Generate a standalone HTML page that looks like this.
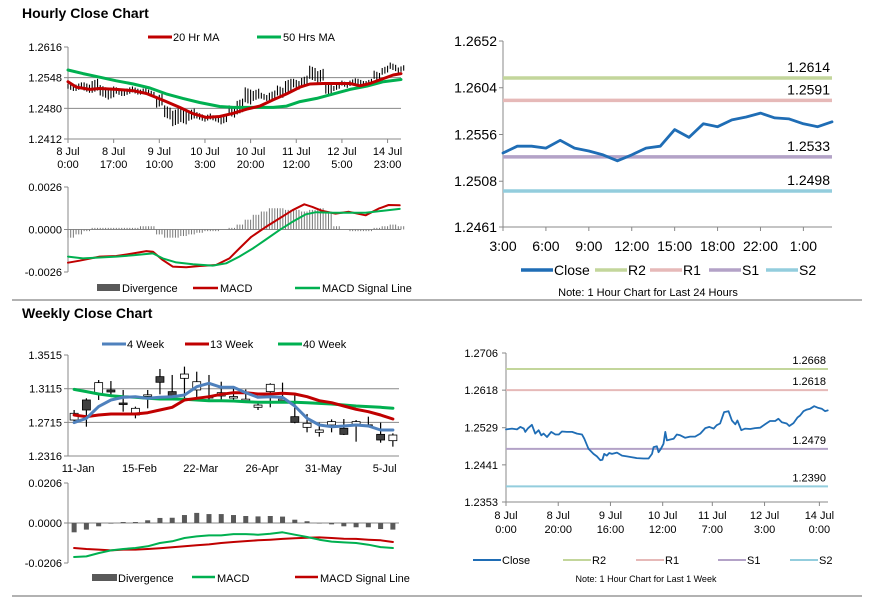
<!DOCTYPE html>
<html><head><meta charset="utf-8"><style>
body{margin:0;background:#fff;}
svg{display:block;font-family:"Liberation Sans",Arial,sans-serif;}
</style></head><body>
<svg id="root" width="873" height="601" viewBox="0 0 873 601" xmlns="http://www.w3.org/2000/svg">
<rect x="0" y="0" width="873" height="601" fill="#fff"/>
<text x="22" y="18" font-size="14" font-weight="bold" fill="#000">Hourly Close Chart</text>
<text x="22" y="318" font-size="14" font-weight="bold" fill="#000">Weekly Close Chart</text>
<line x1="12" y1="300" x2="862" y2="300" stroke="#999" stroke-width="1.5"/>
<line x1="12" y1="596" x2="862" y2="596" stroke="#999" stroke-width="1.5"/>
</svg>
<script>
// ---------- Hourly price chart data ----------
const hBarHours=[0,3,6,9,12,15,18,21,24,27,30,33,36,39,42,45,48,51,54,57,60,63,66,69,72,75,78,81,84,87,90,93,96,99,102,105,108,111,114,117,120,123];
const hBarHigh=[1.2532,1.2535,1.2535,1.2543,1.2529,1.2526,1.2524,1.2524,1.2526,1.2524,1.2519,1.2510,1.2484,1.2477,1.2477,1.2477,1.2469,1.2466,1.2462,1.2462,1.2484,1.2499,1.2524,1.2521,1.2512,1.2517,1.2528,1.2543,1.2543,1.2550,1.2572,1.2565,1.2535,1.2532,1.2539,1.2544,1.2543,1.2543,1.2561,1.2572,1.2579,1.2573];
const hBarLow=[1.2521,1.2521,1.2517,1.2517,1.2506,1.2502,1.2510,1.2510,1.2513,1.2513,1.2506,1.2484,1.2458,1.2443,1.2447,1.2455,1.2455,1.2453,1.2451,1.2447,1.2462,1.2469,1.2491,1.2499,1.2499,1.2499,1.2506,1.2517,1.2524,1.2528,1.2543,1.2539,1.2510,1.2521,1.2528,1.2532,1.2529,1.2529,1.2543,1.2557,1.2565,1.2561];
const ma20Hours=[0,3.1,8.1,11.8,18,24.3,29.2,32.9,36.6,41.6,46.6,51.5,56.5,61.5,66.5,71.4,76.4,81.4,86.4,90.1,95,100,105,108.7,112.4,117.4,121.1,124];
const ma20Values=[1.2539,1.2527,1.2522,1.2524,1.2522,1.2519,1.2513,1.2504,1.2495,1.2482,1.2468,1.2460,1.2462,1.2469,1.2478,1.2485,1.2499,1.2512,1.2527,1.2534,1.2535,1.2535,1.2535,1.2530,1.2535,1.2546,1.2554,1.2557];
const ma50Hours=[0,5.6,11.8,18,24.3,30.5,36.6,42.8,49,56.5,61.5,68.9,76.4,81.4,86.4,92.6,98.8,105,111.2,117.4,124];
const ma50Values=[1.2565,1.2557,1.2549,1.2541,1.2534,1.2525,1.2512,1.2502,1.2493,1.2484,1.2482,1.2482,1.2482,1.2485,1.2495,1.2502,1.2512,1.2522,1.2529,1.2539,1.2544];
const hPriceTicks=[1.2616,1.2548,1.2480,1.2412];
const hXTickHours=[0,17,34,51,68,85,102,119];
const hXTickLine1=["8 Jul","8 Jul","9 Jul","10 Jul","10 Jul","11 Jul","12 Jul","14 Jul"];
const hXTickLine2=["0:00","17:00","10:00","3:00","20:00","12:00","5:00","23:00"];
// ---------- Hourly MACD ----------
const hDivergence=[-0.0005,-0.0003,-0.0001,0.0001,0.0001,0.0001,0.0001,0.0001,0.0001,0.0002,0.0002,-0.0003,-0.0005,-0.0005,-0.0004,-0.0003,-0.0002,-0.0001,-0.0001,0.0000,0.0001,0.0003,0.0006,0.0009,0.0011,0.0013,0.0013,0.0012,0.0012,0.0011,0.0012,0.0013,0.0010,0.0002,0.0000,-0.0001,-0.0001,-0.0001,0.0001,0.0002,0.0003,0.0002];
const hMacdHours=[0,4.3,11.8,18,24.3,29.2,31.6,35.3,39,44,49,55.1,60.1,63.8,68.2,73.7,78.7,83.6,88,91,94.7,99.6,104.6,110.8,115.7,119.4,123.5];
const hMacdValues=[-0.00203,-0.00191,-0.00166,-0.00162,-0.00146,-0.00132,-0.00136,-0.00187,-0.00227,-0.00231,-0.00223,-0.00217,-0.00177,-0.00116,-0.00045,0.00016,0.00067,0.00118,0.00154,0.00138,0.00114,0.00097,0.00108,0.00087,0.00128,0.0015,0.00148];
const hSigHours=[0,5.6,11.8,18,24.3,31.6,35.3,40.3,46.5,53.9,58.9,63.8,68.8,73.7,78.7,83.6,88.6,92.3,98.5,104.6,110.8,117,123.5];
const hSigValues=[-0.00166,-0.00177,-0.00171,-0.00166,-0.00158,-0.00146,-0.00177,-0.00201,-0.00213,-0.00221,-0.00207,-0.00166,-0.00116,-0.00061,-0.00004,0.00047,0.00093,0.00106,0.00102,0.00102,0.00102,0.00114,0.00126];
const hMacdTicks=[0.0026,0.0000,-0.0026];
// ---------- 24h chart ----------
const d24Close=[1.2537,1.2544,1.2544,1.2542,1.2550,1.2542,1.2539,1.2535,1.2529,1.2535,1.2542,1.2544,1.2561,1.2553,1.2567,1.2564,1.2571,1.2574,1.2578,1.2573,1.2572,1.2567,1.2564,1.2569];
const d24TickIdx=[0,3,6,9,12,15,18,21];
const d24TickLabels=["3:00","6:00","9:00","12:00","15:00","18:00","22:00","1:00"];
const d24YTicks=[1.2652,1.2604,1.2556,1.2508,1.2461];
const d24Levels=[1.2614,1.2591,1.2533,1.2498];
// ---------- 1 week chart ----------
const wkHours=[0,2.3,4.2,5.5,6.8,7.4,8.3,9.9,11.2,12.5,13.5,14.4,15.7,17.3,18.9,20.2,21.4,23.3,25.3,27.2,29.1,30.0,31.6,33.5,34.8,36.1,36.9,37.6,38.6,39.5,40.6,42.5,44.4,46.3,48.2,50.1,52.7,54.6,55.9,56.5,57.8,58.4,59.3,60.3,61.0,61.6,62.9,64.2,65.4,66.7,68.6,70.5,72.4,74.4,76.3,77.9,79.5,80.7,82.0,83.5,85.2,86.5,87.8,88.6,90.1,91.6,93.5,95.4,97.3,99.2,101.1,103.1,104.3,105.6,107.5,108.5,110.1,111.6,112.6,113.9,115.2,116.5,118.0,119.6,120.9,122.2,123.2];
const wkClose=[1.2525,1.2527,1.2525,1.2531,1.2527,1.2519,1.2527,1.2536,1.2515,1.2523,1.2511,1.2515,1.2507,1.2519,1.2513,1.2513,1.2520,1.2519,1.2519,1.2515,1.2513,1.2503,1.2479,1.2467,1.2461,1.2452,1.2453,1.2467,1.2463,1.2469,1.2467,1.2470,1.2463,1.2461,1.2459,1.2457,1.2456,1.2456,1.2467,1.2483,1.2485,1.2471,1.2479,1.2491,1.2519,1.2499,1.2501,1.2503,1.2513,1.2511,1.2505,1.2508,1.2508,1.2515,1.2528,1.2531,1.2527,1.2535,1.2539,1.2566,1.2568,1.2546,1.2537,1.2546,1.2523,1.2527,1.2526,1.2528,1.2529,1.2537,1.2545,1.2545,1.2550,1.2542,1.2539,1.2533,1.2540,1.2553,1.2558,1.2568,1.2572,1.2574,1.2580,1.2576,1.2574,1.2568,1.2570];
const wkTickHours=[0,20,40,60,79,99,120];
const wkTickLine1=["8 Jul","8 Jul","9 Jul","10 Jul","11 Jul","12 Jul","14 Jul"];
const wkTickLine2=["0:00","20:00","16:00","12:00","7:00","3:00","0:00"];
const wkYTicks=[1.2706,1.2618,1.2529,1.2441,1.2353];
const wkLevels=[1.2668,1.2618,1.2479,1.2390];
// ---------- Weekly candle chart ----------
const wOpen=[1.2743,1.2981,1.3052,1.3100,1.2945,1.2803,1.3038,1.3258,1.3080,1.3238,1.3100,1.3018,1.3028,1.3018,1.2987,1.2894,1.3080,1.2987,1.2783,1.2656,1.2597,1.2684,1.2645,1.2692,1.2686,1.2573,1.2498];
const wClose=[1.2823,1.2862,1.3187,1.3076,1.2941,1.2882,1.3042,1.3191,1.3020,1.3289,1.3198,1.3022,1.3068,1.3022,1.2991,1.2921,1.3167,1.2991,1.2716,1.2704,1.2625,1.2724,1.2573,1.2724,1.2682,1.2506,1.2565];
const wHigh=[1.2862,1.3001,1.3218,1.3206,1.3100,1.2902,1.3100,1.3349,1.3278,1.3377,1.3317,1.3278,1.3198,1.3131,1.3107,1.2961,1.3179,1.3187,1.3040,1.2815,1.2712,1.2751,1.2755,1.2743,1.2783,1.2712,1.2585];
const wLow=[1.2712,1.2664,1.2981,1.3040,1.2842,1.2763,1.2882,1.3048,1.3001,1.2981,1.3001,1.2981,1.2981,1.2981,1.2981,1.2862,1.2894,1.2973,1.2704,1.2597,1.2546,1.2597,1.2565,1.2486,1.2664,1.2474,1.2427];
const w4Week=[1.2712,1.2763,1.2902,1.2981,1.3013,1.3020,1.3001,1.3013,1.3020,1.3040,1.3139,1.3179,1.3131,1.3131,1.3068,1.3013,1.3020,1.3013,1.2910,1.2763,1.2684,1.2664,1.2672,1.2684,1.2672,1.2625,1.2625];
const w13Week=[1.2803,1.2783,1.2803,1.2815,1.2815,1.2815,1.2830,1.2862,1.2894,1.2981,1.3001,1.3020,1.3048,1.3068,1.3068,1.3052,1.3052,1.3060,1.3052,1.3020,1.2973,1.2949,1.2910,1.2870,1.2842,1.2803,1.2755];
const w40Week=[1.3107,1.3080,1.3052,1.3032,1.3020,1.3013,1.3001,1.2993,1.2993,1.2989,1.2981,1.2973,1.2973,1.2969,1.2961,1.2953,1.2953,1.2953,1.2953,1.2949,1.2941,1.2933,1.2921,1.2910,1.2902,1.2894,1.2882];
const wXTickIdx=[0,5,10,15,20,25];
const wXTickLabels=["11-Jan","15-Feb","22-Mar","26-Apr","31-May","5-Jul"];
const wYTicks=[1.3515,1.3115,1.2715,1.2316];
// ---------- Weekly MACD ----------
const wDivergence=[-0.0048,-0.0034,-0.0017,-0.0003,0.0005,0.0005,0.0014,0.0026,0.0027,0.0041,0.0052,0.0046,0.0046,0.0041,0.0036,0.0034,0.0036,0.0033,0.0017,0.0009,-0.0002,-0.0007,-0.0017,-0.0022,-0.0022,-0.0031,-0.0034];
const wMacd=[-0.0175,-0.0172,-0.0155,-0.0141,-0.0134,-0.0129,-0.0120,-0.0103,-0.0094,-0.0077,-0.0069,-0.0064,-0.0064,-0.0057,-0.0057,-0.0060,-0.0055,-0.0048,-0.0060,-0.0072,-0.0086,-0.0096,-0.0100,-0.0103,-0.0112,-0.0124,-0.0129];
const wSignal=[-0.0129,-0.0134,-0.0137,-0.0141,-0.0137,-0.0137,-0.0134,-0.0130,-0.0125,-0.0120,-0.0115,-0.0110,-0.0103,-0.0098,-0.0093,-0.0089,-0.0086,-0.0082,-0.0079,-0.0076,-0.0074,-0.0077,-0.0081,-0.0082,-0.0086,-0.0089,-0.0098];
const wMacdTicks=[0.0206,0.0000,-0.0206];

const NS="http://www.w3.org/2000/svg";
const root=document.getElementById('root');
function mk(parent,tag,attrs,name,inter){
  const e=document.createElementNS(NS,tag);
  for(const k in attrs)e.setAttribute(k,attrs[k]);
  
  
  parent.appendChild(e);return e;
}
function txt(parent,x,y,s,size,anchor,name,color){
  const t=mk(parent,'text',{x:x,y:y,'font-size':size||11,'text-anchor':anchor||'start',fill:color||'#000'},name,false);
  t.textContent=s;return t;
}
function poly(parent,xs,ys,color,w,name){
  let d='';for(let i=0;i<xs.length;i++)d+=(i?'L':'M')+xs[i].toFixed(1)+' '+ys[i].toFixed(1);
  return mk(parent,'path',{d:d,fill:'none',stroke:color,'stroke-width':w,'stroke-linejoin':'round','stroke-linecap':'round'},name,false);
}
function group(name){return mk(root,'g',{},name,false);}
const RED='#c00000',GREEN='#00b050',BLUE='#4f81bd',DBLUE='#1f6db5';
const C_R2='#c3d69b',C_R1='#e6b9b8',C_S1='#b3a2c7',C_S2='#93cddd';

// ===== Hourly price =====
(function(){
  const g=group('hourly-price-chart');
  const X0=68,X1=401,Y0=47,Y1=139,HMAX=124;
  const x=h=>X0+h*(X1-X0)/HMAX;
  const y=v=>Y0+(hPriceTicks[0]-v)/(hPriceTicks[0]-hPriceTicks[3])*(Y1-Y0);
  hPriceTicks.forEach((t,i)=>{
    const yy=y(t);
    if(i>0)mk(g,'line',{x1:X0,x2:X1,y1:yy,y2:yy,stroke:'#888','stroke-width':1},'gridline',false);
    mk(g,'line',{x1:X0-4,x2:X0,y1:yy,y2:yy,stroke:'#888'},'y-tick',false);
    txt(g,X0-6,yy+4,t.toFixed(4),11,'end','y-tick-label');
  });
  mk(g,'line',{x1:X0,x2:X0,y1:Y0,y2:Y1,stroke:'#888'},'y-axis',false);
  hXTickHours.forEach((h,i)=>{
    const xx=x(h);
    mk(g,'line',{x1:xx,x2:xx,y1:Y1,y2:Y1+4,stroke:'#888'},'x-tick',false);
    txt(g,xx,Y1+16,hXTickLine1[i],11,'middle','x-tick-label');
    txt(g,xx,Y1+29,hXTickLine2[i],11,'middle','x-tick-label');
  });
  hBarHours.forEach((h,i)=>{
    for(let k=0;k<3;k++){
      const xx=x(h+k*1);
      const off=(k-1)*0.00025*(i%2?1:-1);
      const hi=hBarHigh[i]+off*(k===1?0:1), lo=hBarLow[i]+off*(k===1?0:1);
      mk(g,'line',{x1:xx,x2:xx,y1:y(hi),y2:y(lo),stroke:'#000','stroke-width':1.1},'price-bar',false);
    }
  });
  poly(g,ma50Hours.map(x),ma50Values.map(y),GREEN,3,'ma50-line');
  poly(g,ma20Hours.map(x),ma20Values.map(y),RED,3,'ma20-line');
  const lg=mk(g,'g',{},'legend',false);
  mk(lg,'line',{x1:148,x2:172,y1:37,y2:37,stroke:RED,'stroke-width':3},'legend-swatch-ma20',false);
  txt(lg,173,41,'20 Hr MA',11,'start','legend-label-ma20');
  mk(lg,'line',{x1:257,x2:281,y1:37,y2:37,stroke:GREEN,'stroke-width':3},'legend-swatch-ma50',false);
  txt(lg,283,41,'50 Hrs MA',11,'start','legend-label-ma50');
})();

// ===== Hourly MACD =====
(function(){
  const g=group('hourly-macd-chart');
  const X0=68,X1=401,HMAX=124,YT=187,YB=272;
  const x=h=>X0+h*(X1-X0)/HMAX;
  const y=v=>YT+(hMacdTicks[0]-v)/(hMacdTicks[0]-hMacdTicks[2])*(YB-YT);
  mk(g,'line',{x1:X0,x2:X0,y1:YT,y2:YB,stroke:'#888'},'y-axis',false);
  hMacdTicks.forEach(t=>{const yy=y(t);
    mk(g,'line',{x1:X0-4,x2:X0,y1:yy,y2:yy,stroke:'#888'},'y-tick',false);
    txt(g,X0-6,yy+4,t.toFixed(4),11,'end','y-tick-label');});
  mk(g,'line',{x1:X0,x2:X1,y1:y(0),y2:y(0),stroke:'#888'},'zero-line',false);
  hBarHours.forEach((h,i)=>{
    for(let k=0;k<3;k++){const xx=x(h+k);
      mk(g,'line',{x1:xx,x2:xx,y1:y(0),y2:y(hDivergence[i]),stroke:'#777','stroke-width':1},'divergence-bar',false);}
  });
  poly(g,hMacdHours.map(x),hMacdValues.map(y),RED,2,'macd-line');
  poly(g,hSigHours.map(x),hSigValues.map(y),GREEN,2,'macd-signal-line');
  const lg=mk(g,'g',{},'legend',false);
  mk(lg,'rect',{x:97,y:284,width:23,height:7,fill:'#595959'},'legend-swatch-divergence',false);
  txt(lg,122,292,'Divergence',11,'start','legend-label-divergence');
  mk(lg,'line',{x1:193,x2:218,y1:288,y2:288,stroke:RED,'stroke-width':2.5},'legend-swatch-macd',false);
  txt(lg,220,292,'MACD',11,'start','legend-label-macd');
  mk(lg,'line',{x1:295,x2:320,y1:288,y2:288,stroke:GREEN,'stroke-width':2.5},'legend-swatch-signal',false);
  txt(lg,322,292,'MACD Signal Line',11,'start','legend-label-signal');
})();

// ===== 24h chart =====
(function(){
  const g=group('last-24h-chart');
  const X0=503,X1=832,YT=41,YB=227;
  const x=i=>X0+i*(X1-X0)/(d24Close.length-1);
  const y=v=>YT+(d24YTicks[0]-v)/(d24YTicks[0]-d24YTicks[4])*(YB-YT);
  mk(g,'line',{x1:X0,x2:X0,y1:YT,y2:YB,stroke:'#888'},'y-axis',false);
  mk(g,'line',{x1:X0,x2:X1,y1:YB,y2:YB,stroke:'#888'},'x-axis',false);
  d24YTicks.forEach(t=>{const yy=y(t);
    mk(g,'line',{x1:X0-4,x2:X0,y1:yy,y2:yy,stroke:'#888'},'y-tick',false);
    txt(g,X0-6,yy+5,t.toFixed(4),14,'end','y-tick-label');});
  d24TickIdx.forEach((ix,i)=>{const xx=x(ix);
    mk(g,'line',{x1:xx,x2:xx,y1:YB,y2:YB+4,stroke:'#888'},'x-tick',false);
    txt(g,xx,YB+24,d24TickLabels[i],14,'middle','x-tick-label');});
  const cols=[C_R2,C_R1,C_S1,C_S2],nm=['r2','r1','s1','s2'];
  d24Levels.forEach((v,i)=>{const yy=y(v);
    mk(g,'line',{x1:X0,x2:X1,y1:yy,y2:yy,stroke:cols[i],'stroke-width':3.5},'level-'+nm[i],false);
    txt(g,X1-2,yy-6,v.toFixed(4),14,'end','level-label-'+nm[i]);});
  poly(g,d24Close.map((v,i)=>x(i)),d24Close.map(y),DBLUE,2.8,'close-line');
  const lg=mk(g,'g',{},'legend',false);
  const items=[['Close',DBLUE,521],['R2',C_R2,595],['R1',C_R1,650],['S1',C_S1,709],['S2',C_S2,766]];
  items.forEach(it=>{
    mk(lg,'line',{x1:it[2],x2:it[2]+32,y1:270,y2:270,stroke:it[1],'stroke-width':3.5},'legend-swatch-'+it[0].toLowerCase(),false);
    txt(lg,it[2]+33,275,it[0],14,'start','legend-label-'+it[0].toLowerCase());
  });
  txt(g,648,296,'Note: 1 Hour Chart for Last 24 Hours',11,'middle','chart-note');
})();

// ===== 1 week chart =====
(function(){
  const g=group('last-week-chart');
  const X0=506,X1=828,HMAX=123.3,YT=353,YB=502;
  const x=h=>X0+h*(X1-X0)/HMAX;
  const y=v=>YT+(wkYTicks[0]-v)/(wkYTicks[0]-wkYTicks[4])*(YB-YT);
  mk(g,'line',{x1:X0,x2:X0,y1:YT,y2:YB,stroke:'#888'},'y-axis',false);
  mk(g,'line',{x1:X0,x2:X1,y1:YB,y2:YB,stroke:'#888'},'x-axis',false);
  wkYTicks.forEach(t=>{const yy=y(t);
    mk(g,'line',{x1:X0-4,x2:X0,y1:yy,y2:yy,stroke:'#888'},'y-tick',false);
    txt(g,X0-8,yy+4,t.toFixed(4),11,'end','y-tick-label');});
  wkTickHours.forEach((h,i)=>{const xx=x(h);
    mk(g,'line',{x1:xx,x2:xx,y1:YB,y2:YB+4,stroke:'#888'},'x-tick',false);
    txt(g,xx,YB+17,wkTickLine1[i],11,'middle','x-tick-label');
    txt(g,xx,YB+31,wkTickLine2[i],11,'middle','x-tick-label');});
  const cols=[C_R2,C_R1,C_S1,C_S2],nm=['r2','r1','s1','s2'];
  wkLevels.forEach((v,i)=>{const yy=y(v);
    mk(g,'line',{x1:X0,x2:X1,y1:yy,y2:yy,stroke:cols[i],'stroke-width':2},'level-'+nm[i],false);
    txt(g,X1-2,yy-5,v.toFixed(4),11,'end','level-label-'+nm[i]);});
  poly(g,wkHours.map(x),wkClose.map(y),DBLUE,1.8,'close-line');
  const lg=mk(g,'g',{},'legend',false);
  const items=[['Close',DBLUE,473],['R2',C_R2,563],['R1',C_R1,636],['S1',C_S1,718],['S2',C_S2,790]];
  items.forEach(it=>{
    mk(lg,'line',{x1:it[2],x2:it[2]+28,y1:560,y2:560,stroke:it[1],'stroke-width':2},'legend-swatch-'+it[0].toLowerCase(),false);
    txt(lg,it[2]+29,564,it[0],11,'start','legend-label-'+it[0].toLowerCase());
  });
  txt(g,646,582,'Note: 1 Hour Chart for Last 1 Week',9,'middle','chart-note');
})();

// ===== Weekly candles =====
(function(){
  const g=group('weekly-price-chart');
  const X0=68,X1=399,YT=355,YB=456,N=wOpen.length;
  const bw=(X1-X0)/N;
  const x=i=>X0+(i+0.5)*bw;
  const y=v=>YT+(wYTicks[0]-v)/(wYTicks[0]-wYTicks[3])*(YB-YT);
  wYTicks.forEach((t,i)=>{const yy=y(t);
    if(i>0)mk(g,'line',{x1:X0,x2:X1,y1:yy,y2:yy,stroke:'#888'},'gridline',false);
    mk(g,'line',{x1:X0-4,x2:X0,y1:yy,y2:yy,stroke:'#888'},'y-tick',false);
    txt(g,X0-6,yy+4,t.toFixed(4),11,'end','y-tick-label');});
  mk(g,'line',{x1:X0,x2:X0,y1:YT,y2:YB,stroke:'#888'},'y-axis',false);
  wXTickIdx.forEach((ix,i)=>txt(g,x(ix)+4,YB+16,wXTickLabels[i],11,'middle','x-tick-label'));
  for(let i=0;i<N;i++){
    const xx=x(i);
    mk(g,'line',{x1:xx,x2:xx,y1:y(wHigh[i]),y2:y(wLow[i]),stroke:'#000','stroke-width':1.2},'candle-wick',false);
    const top=Math.min(y(wOpen[i]),y(wClose[i])),h=Math.max(1.5,Math.abs(y(wOpen[i])-y(wClose[i])));
    mk(g,'rect',{x:xx-4,y:top,width:8,height:h,fill:wClose[i]>=wOpen[i]?'#fff':'#404040',stroke:'#000','stroke-width':0.8},'candle-body',false);
  }
  const xs=wOpen.map((v,i)=>x(i));
  poly(g,xs,w40Week.map(y),GREEN,3,'ma40-week-line');
  poly(g,xs,w13Week.map(y),RED,3,'ma13-week-line');
  poly(g,xs,w4Week.map(y),BLUE,3,'ma4-week-line');
  const lg=mk(g,'g',{},'legend',false);
  [['4 Week',BLUE,102],['13 Week',RED,185],['40 Week',GREEN,278]].forEach(it=>{
    mk(lg,'line',{x1:it[2],x2:it[2]+24,y1:344,y2:344,stroke:it[1],'stroke-width':3},'legend-swatch',false);
    txt(lg,it[2]+25,348,it[0],11,'start','legend-label');
  });
})();

// ===== Weekly MACD =====
(function(){
  const g=group('weekly-macd-chart');
  const X0=68,X1=399,YT=483,YB=563,N=wDivergence.length;
  const bw=(X1-X0)/N;
  const x=i=>X0+(i+0.5)*bw;
  const y=v=>YT+(wMacdTicks[0]-v)/(wMacdTicks[0]-wMacdTicks[2])*(YB-YT);
  mk(g,'line',{x1:X0,x2:X0,y1:YT,y2:YB,stroke:'#888'},'y-axis',false);
  wMacdTicks.forEach(t=>{const yy=y(t);
    mk(g,'line',{x1:X0-4,x2:X0,y1:yy,y2:yy,stroke:'#888'},'y-tick',false);
    txt(g,X0-6,yy+4,t.toFixed(4),11,'end','y-tick-label');});
  mk(g,'line',{x1:X0,x2:X1,y1:y(0),y2:y(0),stroke:'#888'},'zero-line',false);
  wDivergence.forEach((v,i)=>{const a=y(0),b=y(v);
    mk(g,'rect',{x:x(i)-2.5,y:Math.min(a,b),width:5,height:Math.max(0.5,Math.abs(a-b)),fill:'#595959'},'divergence-bar',false);});
  const xs=wMacd.map((v,i)=>x(i));
  poly(g,xs,wSignal.map(y),RED,2,'macd-signal-line');
  poly(g,xs,wMacd.map(y),GREEN,2,'macd-line');
  const lg=mk(g,'g',{},'legend',false);
  mk(lg,'rect',{x:92,y:574,width:25,height:7,fill:'#595959'},'legend-swatch-divergence',false);
  txt(lg,118,582,'Divergence',11,'start','legend-label-divergence');
  mk(lg,'line',{x1:192,x2:215,y1:577,y2:577,stroke:GREEN,'stroke-width':2.5},'legend-swatch-macd',false);
  txt(lg,217,582,'MACD',11,'start','legend-label-macd');
  mk(lg,'line',{x1:295,x2:318,y1:577,y2:577,stroke:RED,'stroke-width':2.5},'legend-swatch-signal',false);
  txt(lg,320,582,'MACD Signal Line',11,'start','legend-label-signal');
})();
</script>
</body></html>
